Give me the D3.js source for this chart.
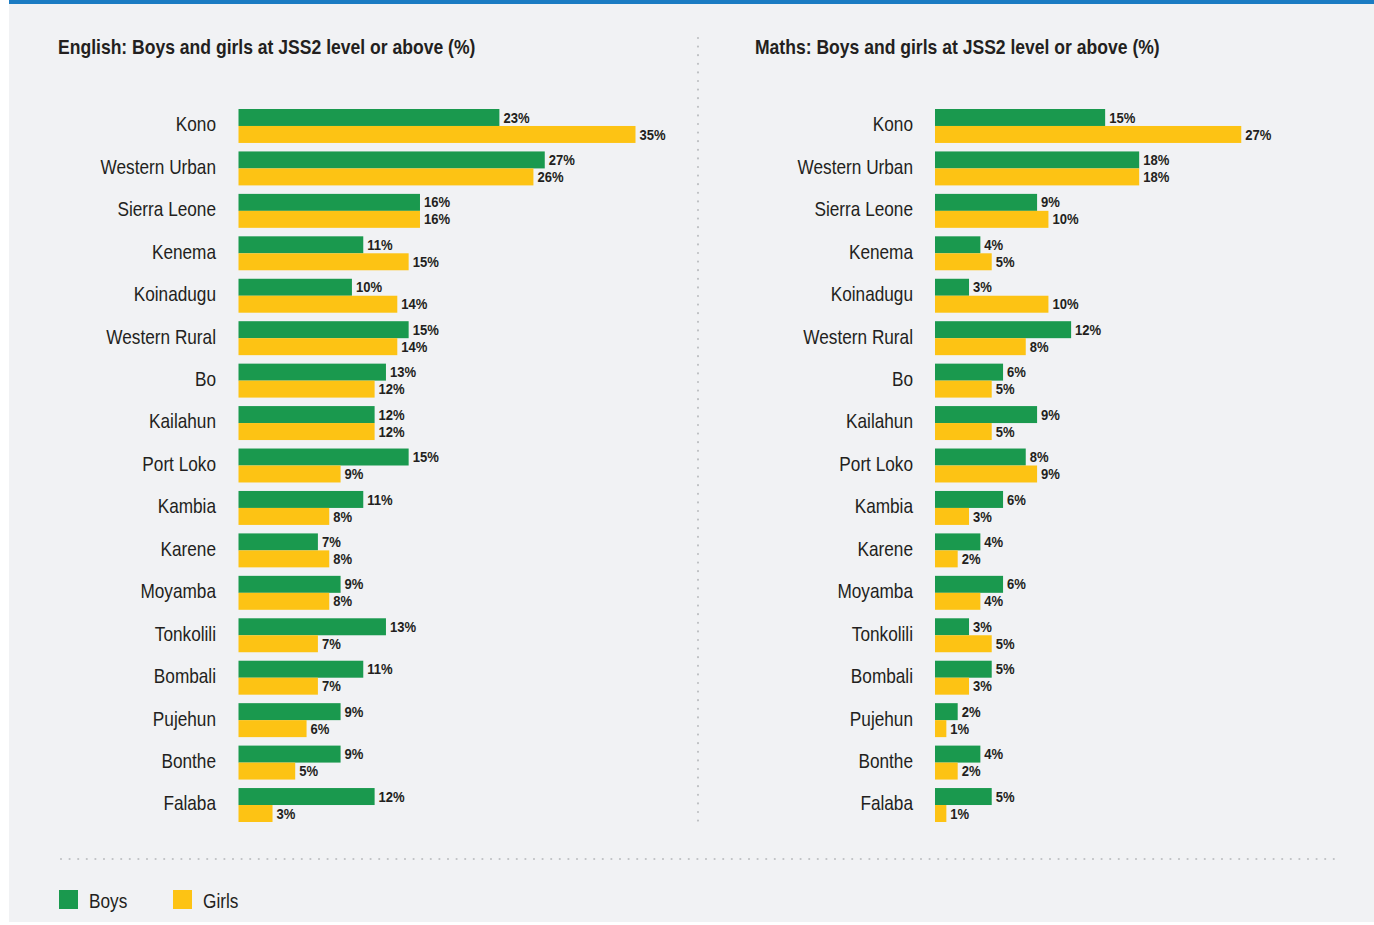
<!DOCTYPE html>
<html>
<head>
<meta charset="utf-8">
<script src="https://cdn.jsdelivr.net/npm/d3@7"></script>
<style>
  body { margin: 0; background: #fff; }
  svg { display: block; }
  text { font-family: "Liberation Sans", Arial, sans-serif; fill: #231f20; }
</style>
</head>
<body>
<div id="chart"></div>
<script>
const districts = ["Kono", "Western Urban", "Sierra Leone", "Kenema", "Koinadugu", "Western Rural", "Bo",
  "Kailahun", "Port Loko", "Kambia", "Karene", "Moyamba", "Tonkolili", "Bombali", "Pujehun", "Bonthe", "Falaba"];
const englishBoys  = [23, 27, 16, 11, 10, 15, 13, 12, 15, 11, 7, 9, 13, 11, 9, 9, 12];
const englishGirls = [35, 26, 16, 15, 14, 14, 12, 12, 9, 8, 8, 8, 7, 7, 6, 5, 3];
const mathsBoys    = [15, 18, 9, 4, 3, 12, 6, 9, 8, 6, 4, 6, 3, 5, 2, 4, 5];
const mathsGirls   = [27, 18, 10, 5, 10, 8, 5, 5, 9, 3, 2, 4, 5, 3, 1, 2, 1];
const titles = ["English: Boys and girls at JSS2 level or above (%)", "Maths: Boys and girls at JSS2 level or above (%)"];
const seriesNames = ["Boys", "Girls"];

const W = 1374, H = 925;
const GREEN = "#1a994e", YELLOW = "#fdc314";

// place a text at (x,y) squeezed horizontally (fake condensed face)
function at(x, y, k) {
  return "translate(" + x + "," + y + ") scale(" + (k || 0.82) + ",1)";
}

const svg = d3.select("#chart").append("svg")
  .attr("width", W)
  .attr("height", H);

// background + top rule
svg.append("rect").attr("x", 9).attr("y", 0).attr("width", W - 9).attr("height", 922).attr("fill", "#f1f2f4");
svg.append("rect").attr("x", 9).attr("y", 0).attr("width", W - 9).attr("height", 4).attr("fill", "#1b7cc3");

const y = d3.scaleBand()
  .domain(districts)
  .range([109, 822])
  .paddingInner(0.2)
  .paddingOuter(0);

const panels = [
  { title: titles[0], boys: englishBoys, girls: englishGirls, x0: 238.5, titleX: 58, labelX: 216 },
  { title: titles[1], boys: mathsBoys, girls: mathsGirls, x0: 935, titleX: 755, labelX: 913 }
];

panels.forEach(function(p) {
  const x = d3.scaleLinear().domain([0, 35]).range([p.x0, p.x0 + 397]);
  const half = y.bandwidth() / 2;
  const g = svg.append("g");

  g.append("text")
    .attr("transform", at(p.titleX, 54, 0.9))
    .style("font-size", "19.5px")
    .style("font-weight", "bold")
    .text(p.title);

  const rows = districts.map(function(d, i) {
    return { name: d, boys: p.boys[i], girls: p.girls[i] };
  });

  g.selectAll(".cat").data(rows).enter().append("text")
    .attr("class", "cat")
    .attr("transform", d => at(p.labelX, y(d.name) + half - 2))
    .attr("dy", "0.35em")
    .attr("text-anchor", "end")
    .style("font-size", "21px")
    .text(d => d.name);

  [["boys", GREEN, 0], ["girls", YELLOW, half]].forEach(function(s) {
    const key = s[0];
    g.selectAll(".bar-" + key).data(rows).enter().append("rect")
      .attr("class", "bar-" + key)
      .attr("x", x(0))
      .attr("y", d => y(d.name) + s[2])
      .attr("width", d => x(d[key]) - x(0))
      .attr("height", half)
      .attr("fill", s[1]);

    g.selectAll(".val-" + key).data(rows).enter().append("text")
      .attr("class", "val-" + key)
      .attr("transform", d => at(x(d[key]) + 4, y(d.name) + s[2] + half / 2, 0.9))
      .attr("dy", "0.35em")
      .style("font-size", "14.5px")
      .style("font-weight", "bold")
      .text(d => d[key] + "%");
  });
});

// dotted dividers
svg.append("line")
  .attr("x1", 698).attr("x2", 698).attr("y1", 38).attr("y2", 822)
  .attr("stroke", "#bfc1c4").attr("stroke-width", 2.2)
  .attr("stroke-linecap", "round").attr("stroke-dasharray", "0 8.6");
svg.append("line")
  .attr("x1", 61).attr("x2", 1338).attr("y1", 859).attr("y2", 859)
  .attr("stroke", "#bfc1c4").attr("stroke-width", 2.2)
  .attr("stroke-linecap", "round").attr("stroke-dasharray", "0 8.6");

// legend
const legend = svg.append("g").selectAll("g")
  .data(seriesNames)
  .enter().append("g")
  .attr("transform", (d, i) => "translate(" + (59 + i * 114) + ",890)");
legend.append("rect")
  .attr("width", 19).attr("height", 19)
  .attr("fill", (d, i) => i === 0 ? GREEN : YELLOW);
legend.append("text")
  .attr("transform", at(30, 11))
  .attr("dy", "0.35em")
  .style("font-size", "21px")
  .text(d => d);
</script>
</body>
</html>
